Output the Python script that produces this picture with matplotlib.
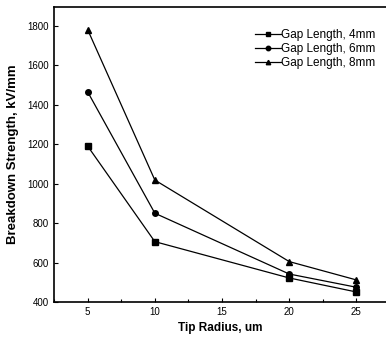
import matplotlib
matplotlib.use('Agg')
import matplotlib.pyplot as plt
from matplotlib.ticker import MultipleLocator

plt.rcParams['font.family'] = ['Liberation Sans', 'DejaVu Sans']

tip_radius = [5, 10, 20, 25]
gap_4mm = [1190, 706, 522, 451]
gap_6mm = [1465, 850, 542, 475]
gap_8mm = [1780, 1018, 605, 512]
labels = ['Gap Length, 4mm', 'Gap Length, 6mm', 'Gap Length, 8mm']
markers = ['s', 'o', '^']

fig = plt.figure(figsize=(3.86, 3.46), dpi=100)
ax = fig.add_axes([0.14, 0.127, 0.86, 0.853])

for vals, lab, m in zip([gap_4mm, gap_6mm, gap_8mm], labels, markers):
    ax.plot(tip_radius, vals, color='black', lw=0.9, marker=m, ms=4,
            label=lab)

ax.set_xlim(2.5, 27.2)
ax.set_ylim(400, 1895)
ax.xaxis.set_major_locator(MultipleLocator(5))
ax.xaxis.set_minor_locator(MultipleLocator(2.5))
ax.yaxis.set_major_locator(MultipleLocator(200))
ax.tick_params(which='both', direction='in', labelsize=7, width=0.8)
ax.tick_params(which='major', length=3)
ax.tick_params(which='minor', length=2)
for s in ax.spines.values():
    s.set_linewidth(1.2)
ax.spines['right'].set_visible(False)

ax.set_xlabel('Tip Radius, um', fontsize=8.5, fontweight='bold', labelpad=4)
ax.set_ylabel('Breakdown Strength, kV/mm', fontsize=9.5, fontweight='bold',
              labelpad=6)

ax.legend(loc='upper right', frameon=False, fontsize=8.5, handlelength=2.2,
          handletextpad=0.0, labelspacing=0.15, markerscale=0.8,
          bbox_to_anchor=(1.0, 0.96))

fig.savefig('out.png', dpi=100)
